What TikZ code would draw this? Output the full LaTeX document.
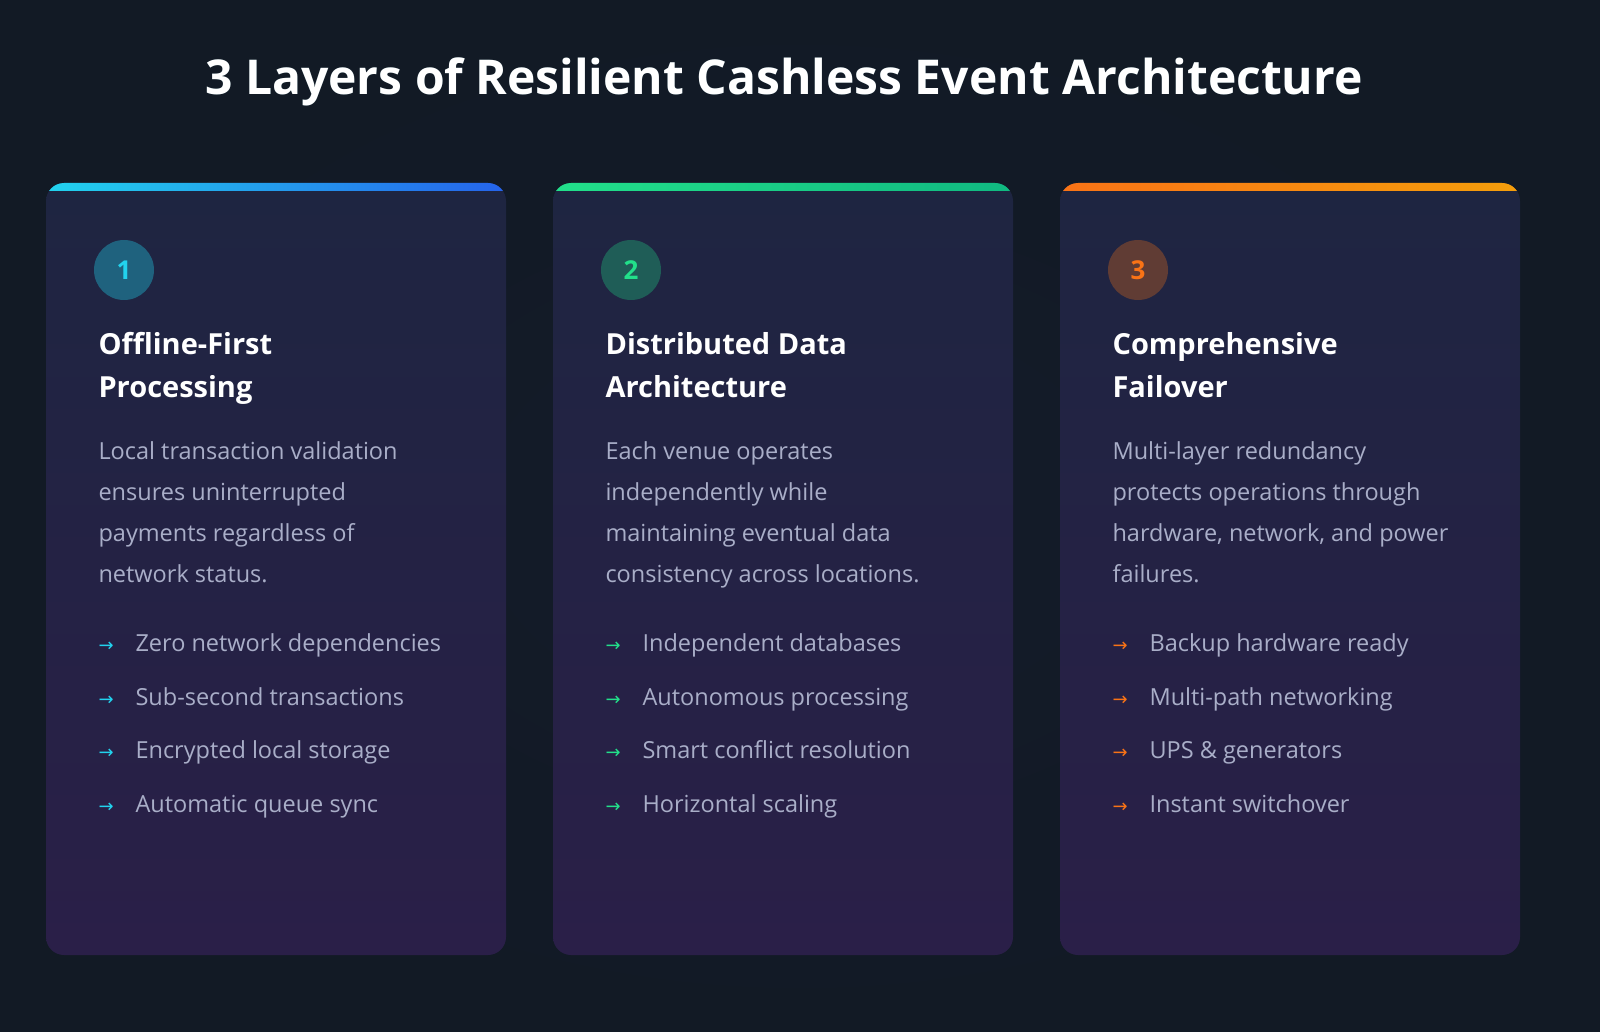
\documentclass[tikz,border=0pt]{standalone}
\usepackage{fontspec}
\setmainfont{Open Sans}
\newfontfamily\arrowfont{DejaVu Sans}
\definecolor{bg}{HTML}{121A25}
\definecolor{cardtop}{HTML}{1E2541}
\definecolor{cardbot}{HTML}{2A1F48}
\definecolor{bodytxt}{HTML}{A9AEC8}
\definecolor{cyanA}{HTML}{22D3EE}
\definecolor{blueA}{HTML}{2563EB}
\definecolor{greenA}{HTML}{22E08A}
\definecolor{greenB}{HTML}{10B981}
\definecolor{orangeA}{HTML}{F97316}
\definecolor{orangeB}{HTML}{F59E0B}
\tikzset{
  x=1pt,y=-1pt,
  title/.style={text=white,font=\fontsize{48}{52}\selectfont\bfseries,anchor=base},
  head/.style={text=white,font=\fontsize{29}{43}\selectfont\bfseries,anchor=base west,align=left},
  body/.style={text=bodytxt,font=\fontsize{23.5}{41}\selectfont,anchor=base west,align=left},
  item/.style={text=bodytxt,font=\fontsize{23.5}{28}\selectfont,anchor=base west},
  num/.style={circle,minimum size=60pt,inner sep=0pt,font=\fontsize{26}{30}\selectfont\bfseries},
}
\newcommand{\mycard}[9]{%
  \shade[top color=cardtop,bottom color=cardbot,rounded corners=18pt] (#1,183) rectangle ++(460,772);
  \begin{scope}
    \clip[rounded corners=18pt] (#1,183) rectangle ++(460,772);
    \shade[left color=#2,right color=#3] (#1,183) rectangle ++(460,8);
  \end{scope}
  \node[num,fill=#4,text=#5] (#9n) at (#1+78,270) {#6};
  \node[head] (#9h) at (#1+49,397) {#7};
  \node[body] (#9b) at (#1+49,582) {#8};
}
\newcommand{\myitem}[5]{%
  \node[item,text=#2,font=\arrowfont\fontsize{18}{20}\selectfont] (#5a) at (#1+49,#4) {→};
  \node[item] (#5t) at (#1+86,#4) {#3};
}
\begin{document}
\begin{tikzpicture}
\useasboundingbox (0,0) rectangle (1600,1032);
\fill[bg] (0,0) rectangle (1600,1032);
\begin{scope}
\clip (0,0) rectangle (1600,1032);
\shade[inner color=bg!75!cardtop,outer color=bg,opacity=0.6] (800,516) ellipse (900 and 600);
\end{scope}
\node[title,text=cyanA,opacity=0.15] at (784,95) {3 Layers of Resilient Cashless Event Architecture};
\node[title] (title) at (784,95) {3 Layers of Resilient Cashless Event Architecture};

\mycard{46}{cyanA}{blueA}{cyanA!35!cardtop}{cyanA}{1}{Offline-First\\Processing}{Local transaction validation\\ensures uninterrupted\\payments regardless of\\network status.}{c1}
\mycard{553}{greenA}{greenB}{greenA!30!cardtop}{greenA}{2}{Distributed Data\\Architecture}{Each venue operates\\independently while\\maintaining eventual data\\consistency across locations.}{c2}
\mycard{1060}{orangeA}{orangeB}{orangeA!30!cardtop}{orangeA}{3}{Comprehensive\\Failover}{Multi-layer redundancy\\protects operations through\\hardware, network, and power\\failures.}{c3}

\myitem{46}{cyanA}{Zero network dependencies}{651}{a1}
\myitem{46}{cyanA}{Sub-second transactions}{705}{a2}
\myitem{46}{cyanA}{Encrypted local storage}{758}{a3}
\myitem{46}{cyanA}{Automatic queue sync}{812}{a4}
\myitem{553}{greenA}{Independent databases}{651}{b1}
\myitem{553}{greenA}{Autonomous processing}{705}{b2}
\myitem{553}{greenA}{Smart conflict resolution}{758}{b3}
\myitem{553}{greenA}{Horizontal scaling}{812}{b4}
\myitem{1060}{orangeA}{Backup hardware ready}{651}{d1}
\myitem{1060}{orangeA}{Multi-path networking}{705}{d2}
\myitem{1060}{orangeA}{UPS \& generators}{758}{d3}
\myitem{1060}{orangeA}{Instant switchover}{812}{d4}
\end{tikzpicture}
\end{document}
